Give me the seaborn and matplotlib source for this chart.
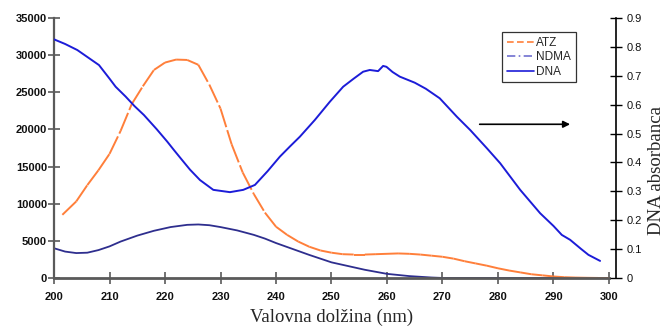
import numpy as np
import pandas as pd
import matplotlib
matplotlib.use("Agg")
import matplotlib.pyplot as plt
from matplotlib.lines import Line2D
from matplotlib.collections import LineCollection
import seaborn as sns

# ======================
# Data
# ======================
atz_nm = [201.5, 204, 206, 208, 210, 212, 214, 216, 218, 220, 222, 224, 226, 228,
          230, 232, 234, 236, 238, 240, 242, 244, 246, 248, 250, 252, 254, 256, 258,
          260, 262, 264, 266, 268, 270, 272, 274, 276, 278, 280, 282, 284, 286, 288,
          290, 292, 294, 296, 298, 300]
atz_val = [8500, 10300, 12500, 14500, 16700, 19800, 23400, 25800, 28000, 29000, 29400,
           29350, 28700, 26000, 22800, 18000, 14200, 11300, 8800, 6900, 5800, 4900,
           4200, 3700, 3400, 3200, 3150, 3150, 3200, 3250, 3300, 3250, 3150, 3000, 2850,
           2600, 2250, 1950, 1650, 1300, 1000, 750, 500, 350, 200, 100, 50, 20, 0, 0]

ndma_nm = [200, 202, 204, 206, 208, 210, 212, 215, 218, 221, 224, 226, 228, 230, 233,
           236, 238, 240, 243, 246, 250, 253, 256, 260, 264, 268, 270, 280, 290, 300]
ndma_val = [4000, 3550, 3350, 3400, 3750, 4250, 4900, 5700, 6350, 6850, 7150, 7200, 7100,
            6850, 6400, 5800, 5300, 4700, 3900, 3100, 2100, 1600, 1100, 550, 250, 60,
            0, 0, 0, 0]

dna_nm = [200, 202, 204.2, 206, 208.1, 210, 211.1, 212.9, 214.5, 216.2, 218.5, 220.4,
          221.6, 223, 224.5, 226.3, 228.7, 231.7, 234.1, 236.2, 238.5, 240.7, 242.5,
          244.3, 247, 249.7, 252.1, 254, 255.7, 256.9, 258.4, 259.3, 259.9, 261, 262.3,
          265, 267, 269.5, 272.6, 275, 278, 280.4, 284, 287.6, 290, 291.5, 293, 295,
          296.3, 298.4]
dna_abs = [0.826, 0.81, 0.789, 0.765, 0.737, 0.69, 0.662, 0.628, 0.595, 0.564, 0.515,
           0.472, 0.443, 0.41, 0.375, 0.339, 0.305, 0.297, 0.305, 0.322, 0.37, 0.42,
           0.455, 0.489, 0.547, 0.61, 0.662, 0.69, 0.714, 0.72, 0.716, 0.734, 0.731,
           0.713, 0.697, 0.676, 0.655, 0.622, 0.558, 0.512, 0.449, 0.397, 0.305, 0.224,
           0.18, 0.149, 0.132, 0.1, 0.08, 0.059]

x_ticks = [200, 210, 220, 230, 240, 250, 260, 270, 280, 290, 300]
y_ticks = [0, 5000, 10000, 15000, 20000, 25000, 30000, 35000]
y2_ticks = [0, 0.1, 0.2, 0.3, 0.4, 0.5, 0.6, 0.7, 0.8, 0.9]
y2_labels = ["0", "0.1", "0.2", "0.3", "0.4", "0.5", "0.6", "0.7", "0.8", "0.9"]

atz_df = pd.DataFrame({"nm": atz_nm, "val": atz_val})
ndma_df = pd.DataFrame({"nm": ndma_nm, "val": ndma_val})
dna_df = pd.DataFrame({"nm": dna_nm, "val": dna_abs})

# ======================
# Style
# ======================
sns.set_style("white")
plt.rcParams["font.family"] = ["Liberation Sans", "DejaVu Sans"]

ORANGE = "#ff7f3a"
NAVY = "#2e2e8e"
BLUE = "#1c1cd8"
GREY = "#5a5a5a"
SERIF = ["Liberation Serif", "DejaVu Serif"]

fig = plt.figure(figsize=(6.67, 3.27), dpi=100)
ax = fig.add_axes([0.081, 0.150, 0.832, 0.795])
ax2 = ax.twinx()

sns.lineplot(data=ndma_df, x="nm", y="val", ax=ax, color=NAVY, linewidth=1.3)
sns.lineplot(data=atz_df, x="nm", y="val", ax=ax, color=ORANGE, linewidth=1.4)
# excel-like dashing: the dash pattern restarts on every segment
atz_line = ax.lines[-1]
xy = atz_line.get_xydata()
atz_line.remove()
segs = np.stack([xy[:-1], xy[1:]], axis=1)
ax.add_collection(LineCollection(segs, colors=ORANGE, linewidths=1.4,
                                 linestyles=[(0, (10, 1.6))], capstyle="butt"))
sns.lineplot(data=dna_df, x="nm", y="val", ax=ax2, color=BLUE, linewidth=1.4)

ax.set_xlim(200, 300)
ax.set_ylim(0, 35000)
ax2.set_ylim(0, 0.9)

ax.set_xticks(x_ticks)
ax.set_yticks(y_ticks)
ax2.set_yticks(y2_ticks)
ax2.set_yticklabels(y2_labels)

ax.tick_params(axis="both", direction="inout", length=8, width=1.2, color=GREY,
               labelsize=8, labelcolor="#111111")
ax.tick_params(axis="y", left=True, pad=1)
ax.tick_params(axis="x", bottom=True, pad=6)
ax2.tick_params(axis="y", direction="inout", length=8, width=1.0, color="black",
                pad=4, labelsize=8, labelcolor="#111111")

for t in ax.xaxis.get_major_ticks() + ax.yaxis.get_major_ticks():
    t.label1.set_fontweight("bold")
for t in ax2.yaxis.get_major_ticks():
    t.label2.set_fontweight("bold")

for s in ["top", "right"]:
    ax.spines[s].set_visible(False)
ax.spines["left"].set_color(GREY)
ax.spines["left"].set_linewidth(1.6)
ax.spines["bottom"].set_color(GREY)
ax.spines["bottom"].set_linewidth(2.0)
for s in ["top", "left", "bottom"]:
    ax2.spines[s].set_visible(False)
ax2.spines["right"].set_color("black")
ax2.spines["right"].set_linewidth(1.2)
ax2.spines["right"].set_position(("outward", 5))

ax.set_ylabel("")
ax2.set_ylabel("")
ax.set_xlabel("Valovna dolžina (nm)", fontfamily=SERIF, fontsize=13.5, labelpad=5)
fig.text(0.984, 0.48, "DNA absorbanca", rotation=90, ha="center", va="center",
         fontsize=13.5, fontfamily=SERIF)

# arrow pointing to the DNA axis
ax2.annotate("", xy=(293.5, 0.532), xytext=(276.2, 0.532),
             arrowprops=dict(arrowstyle="-|>", color="black", lw=1.2, mutation_scale=10))

handles = [
    Line2D([], [], color=ORANGE, lw=1.2, dashes=(4, 2)),
    Line2D([], [], color="#7070d0", lw=1.2, dashes=(5, 2, 1, 2)),
    Line2D([], [], color=BLUE, lw=1.2),
]
leg = ax2.legend(handles, ["ATZ", "NDMA", "DNA"], loc="upper left",
                 bbox_to_anchor=(0.807, 0.945), fontsize=8.5, frameon=True,
                 fancybox=False, handlelength=2.3, handletextpad=0.2,
                 labelspacing=0.2, borderpad=0.4, borderaxespad=0)
leg.get_frame().set_edgecolor("black")
leg.get_frame().set_linewidth(0.9)

fig.savefig("out.png", dpi=100)
